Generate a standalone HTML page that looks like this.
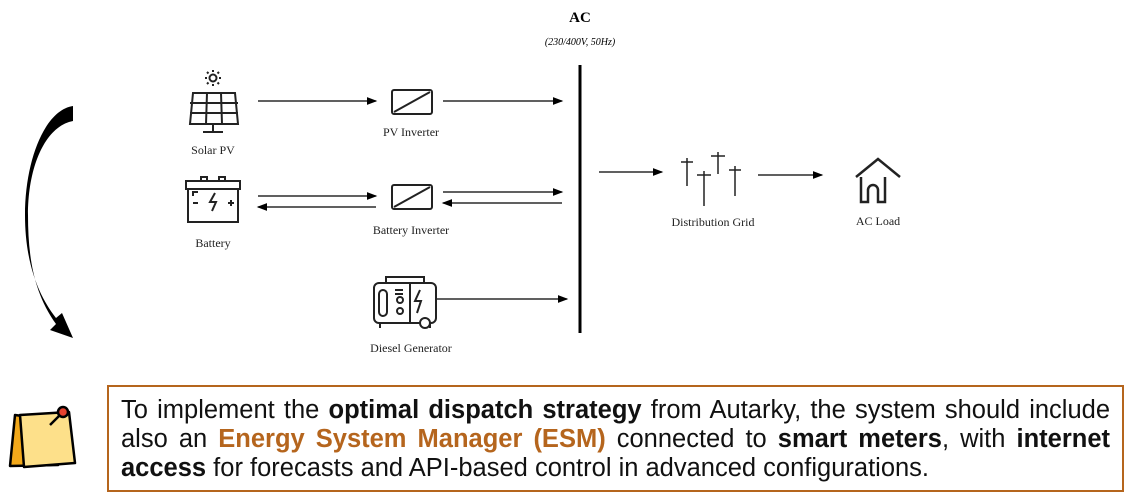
<!DOCTYPE html>
<html><head><meta charset="utf-8"><style>
html,body{margin:0;padding:0;background:#fff;}
body{width:1131px;height:498px;position:relative;overflow:hidden;font-family:"Liberation Serif",serif;}
.lbl{position:absolute;font-size:12px;color:#222;text-align:center;width:140px;}
.box{position:absolute;left:107px;top:385px;width:1017px;height:107px;border:2px solid #b5651d;box-sizing:border-box;padding:9px 12px 0 12px;font-family:"Liberation Sans",sans-serif;font-size:25.5px;line-height:29px;color:#111;}
.box div{white-space:nowrap;text-align:justify;text-align-last:justify;}
.box div.l{text-align-last:left;}
.o{color:#b5651d;font-weight:bold}
</style></head><body>
<svg width="1131" height="498" style="position:absolute;left:0;top:0">
<defs><marker id="a" markerWidth="8" markerHeight="6" refX="7" refY="3" orient="auto"><path d="M0,0L8,3L0,6z" fill="#000"/></marker></defs>
<g stroke="#000" stroke-width="1.3" fill="none" marker-end="url(#a)">
<line x1="258" y1="101" x2="376" y2="101"/>
<line x1="443" y1="101" x2="562" y2="101"/>
<line x1="258" y1="196" x2="376" y2="196"/>
<line x1="376" y1="207" x2="258" y2="207"/>
<line x1="443" y1="192" x2="562" y2="192"/>
<line x1="562" y1="203" x2="443" y2="203"/>
<line x1="436" y1="299" x2="567" y2="299"/>
<line x1="599" y1="172" x2="662" y2="172"/>
<line x1="758" y1="175" x2="822" y2="175"/>
</g>
<line x1="580" y1="65" x2="580" y2="333" stroke="#000" stroke-width="3"/>
<path d="M73,106 C45,110 25,160 25,215 C25,262 38,295 56,318 L62,313 L73,338 L50,330 L56,324 C33,292 28,255 28,215 C28,165 46,126 73,121 Z" fill="#000"/>
<g stroke="#222" stroke-width="2" fill="none">
<circle cx="213" cy="78" r="3.5"/>
<path d="M213,70v2M213,84v2M205,78h2M219,78h2M207,72l1.5,1.5M217.5,82.5l1.5,1.5M207,84l1.5,-1.5M217.5,73.5l1.5,-1.5"/>
<path d="M193,93h42l3,31h-48z M190,103h48M190,113h48M207,93l-1,31M221,93l1,31"/>
<path d="M213,124v7M203,132h20"/>
<path d="M186,181h54v8h-54z M188,189v33h50v-33M201,181v-4h6v4M219,181v-4h6v4"/>
<path d="M193,203h5M193,196v-4h5M228,203h6M231,200v6M215,193l-5,9h6l-4,9"/>
<rect x="392" y="90" width="40" height="24" rx="2"/><path d="M394,112L430,92"/>
<rect x="392" y="185" width="40" height="24" rx="2"/><path d="M394,207L430,187"/>
<rect x="374" y="283" width="62" height="40" rx="5"/><path d="M386,283v-6h38v6M410,283v40M380,323v5M430,323v5"/>
<rect x="379" y="290" width="8" height="26" rx="4"/><circle cx="400" cy="300" r="3"/><circle cx="400" cy="311" r="3"/>
<path d="M395,290h8M395,294h8M420,290l-5,11h6l-4,12"/>
<circle cx="425" cy="323" r="5" fill="#fff"/>
<path d="M687,158v28M681,162h12M704,171v35M697,175h14M718,152v22M711,156h14M735,166v30M729,170h12" stroke-width="1.5"/>
<path d="M856,177l22,-18l22,18M861,177v25h7v-12a4,4 0 0 1 10,0v12h7v-25" stroke-width="2.5"/>
</g>
<g stroke="#000" stroke-width="2.5" stroke-linejoin="round">
<path d="M15,415L52,420L58,465L10,466Z" fill="#f2a81a"/>
<path d="M20,415L69,412L75,463L24,467Z" fill="#fde08a"/>
<line x1="50" y1="425" x2="62" y2="413"/>
<circle cx="63" cy="412" r="5" fill="#e8432f"/>
</g>
</svg>
<div style="position:absolute;left:540px;top:10px;width:80px;text-align:center;font-weight:bold;font-size:15px;">AC</div>
<div style="position:absolute;left:520px;top:37px;width:120px;text-align:center;font-style:italic;font-size:10px;">(230/400V, 50Hz)</div>
<div class="lbl" style="left:143px;top:143px">Solar PV</div>
<div class="lbl" style="left:341px;top:125px">PV Inverter</div>
<div class="lbl" style="left:143px;top:236px">Battery</div>
<div class="lbl" style="left:341px;top:223px">Battery Inverter</div>
<div class="lbl" style="left:341px;top:341px">Diesel Generator</div>
<div class="lbl" style="left:643px;top:215px">Distribution Grid</div>
<div class="lbl" style="left:808px;top:214px">AC Load</div>
<div class="box">
<div>To implement the <b>optimal dispatch strategy</b> from Autarky, the system should include</div>
<div>also an <span class="o">Energy System Manager (ESM)</span> connected to <b>smart meters</b>, with <b>internet</b></div>
<div class="l"><b>access</b> for forecasts and API-based control in advanced configurations.</div>
</div>
</body></html>
